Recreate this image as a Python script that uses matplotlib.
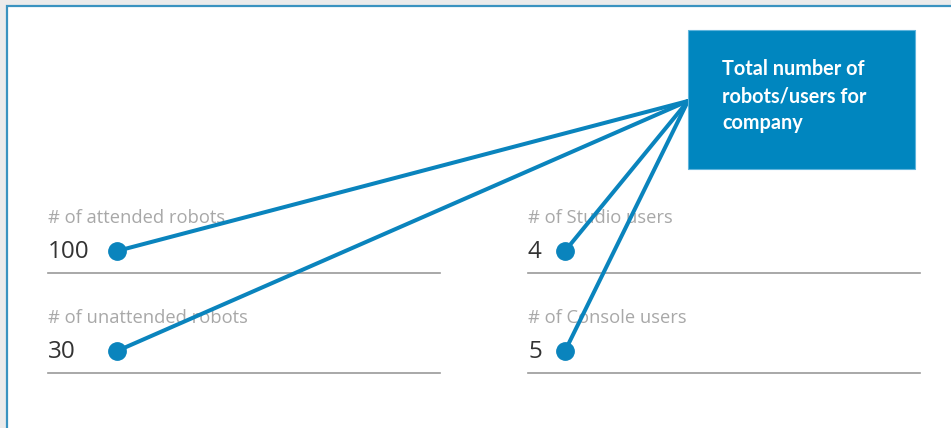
import matplotlib.pyplot as plt
from matplotlib.patches import Rectangle

# field data
labels = ["# of attended robots", "# of unattended robots",
          "# of Studio users", "# of Console users"]
values = ["100", "30", "4", "5"]
columns = [0, 0, 1, 1]
rows = [0, 1, 0, 1]
callout_text = "Total number of\nrobots/users for\ncompany"

blue = "#0a84bd"

fig = plt.figure(figsize=(9.51, 4.28), dpi=100)
fig.patch.set_facecolor("#ebebeb")
ax = fig.add_axes([0, 0, 1, 1])
ax.set_xlim(0, 951)
ax.set_ylim(428, 0)
ax.axis("off")

# panel with blue frame
ax.add_patch(Rectangle((6.5, 5.5), 960, 440, facecolor="white",
                       edgecolor="#3a93c0", linewidth=1.6, zorder=0))

# callout box
ax.add_patch(Rectangle((688, 30), 227, 139, facecolor="#0086bf",
                       edgecolor="#5fb4dc", linewidth=0.8, zorder=3))
ax.text(722, 96, callout_text, color="white", fontsize=14.3,
        fontweight="bold", family="Lato", va="center", ha="left",
        linespacing=1.45, zorder=4)

hub = (688, 101)
col_x = [48, 528]
row_y = [218, 318]

for lab, val, c, r in zip(labels, values, columns, rows):
    x0 = col_x[c]
    y0 = row_y[r]
    ax.text(x0, y0, lab, color="#a8a8a8", fontsize=13.2, family="Open Sans",
            va="center", ha="left", zorder=1)
    ax.text(x0, y0 + 34, val, color="#333333", fontsize=17.5,
            family="Open Sans", va="center", ha="left", zorder=1)
    ax.plot([x0, x0 + 392], [y0 + 55, y0 + 55], color="#9a9a9a",
            linewidth=1.2, zorder=1)
    # connector line to the callout
    dot_x = x0 + 69 if c == 0 else x0 + 37
    dot_y = y0 + 33
    ax.plot([dot_x, hub[0]], [dot_y, hub[1]], color=blue, linewidth=2.9,
            solid_capstyle="round", zorder=2)
    ax.plot(dot_x, dot_y, "o", color=blue, markersize=12.5, zorder=2)

fig.savefig("out.png", dpi=100, facecolor=fig.get_facecolor())
